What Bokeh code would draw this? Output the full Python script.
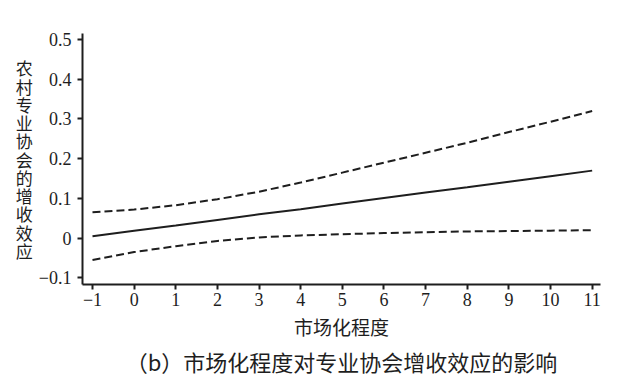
from bokeh.plotting import figure
from bokeh.models import Range1d, FixedTicker, Title, CustomJSTickFormatter
from bokeh.embed import file_html
from bokeh.resources import INLINE

x_vals = [-1, 0, 1, 2, 3, 4, 5, 6, 7, 8, 9, 10, 11]
effect = [0.005, 0.019, 0.032, 0.046, 0.060, 0.073, 0.087, 0.101, 0.115, 0.128, 0.142, 0.156, 0.170]
upper = [0.065, 0.072, 0.083, 0.098, 0.117, 0.140, 0.165, 0.190, 0.215, 0.240, 0.267, 0.293, 0.320]
lower = [-0.055, -0.035, -0.020, -0.007, 0.002, 0.007, 0.010, 0.013, 0.015, 0.017, 0.018, 0.019, 0.020]

x_ticks = [-1, 0, 1, 2, 3, 4, 5, 6, 7, 8, 9, 10, 11]
x_tick_labels = ["−1", "0", "1", "2", "3", "4", "5", "6", "7", "8", "9", "10", "11"]
y_ticks = [-0.1, 0, 0.1, 0.2, 0.3, 0.4, 0.5]
y_tick_labels = ["−0.1", "0", "0.1", "0.2", "0.3", "0.4", "0.5"]

x_title = "市场化程度"
y_title = "农村专业协会的增收效应"
caption = "（b）市场化程度对专业协会增收效应的影响"

SERIF = "Liberation Serif"
CJK = "Noto Sans CJK SC"
INK = "#1e1e1e"

LOOKUP = """
let best = 0;
for (let i = 0; i < tvals.length; i++) {
    if (Math.abs(tvals[i] - tick) < Math.abs(tvals[best] - tick)) { best = i; }
}
return tlabels[best];
"""

p = figure(width=622, height=378, output_backend="svg", toolbar_location=None,
           x_range=Range1d(-1.24, 11.2), y_range=Range1d(-0.1165, 0.515),
           min_border_left=82, min_border_right=22, min_border_top=33, min_border_bottom=94)
p.outline_line_color = None
p.xgrid.visible = False
p.ygrid.visible = False
p.background_fill_color = "white"
p.border_fill_color = "white"

p.line(x_vals, upper, line_color=INK, line_width=2, line_dash="8 4")
p.line(x_vals, lower, line_color=INK, line_width=2, line_dash="8 4")
p.line(x_vals, effect, line_color=INK, line_width=2)

for ax in (p.xaxis[0], p.yaxis[0]):
    ax.axis_line_width = 2
    ax.axis_line_color = INK
    ax.major_tick_line_width = 2
    ax.major_tick_line_color = INK
    ax.major_tick_out = 5
    ax.major_tick_in = 0
    ax.minor_tick_line_color = None
    ax.major_label_text_font = SERIF
    ax.major_label_text_font_size = "18px"
    ax.major_label_text_color = INK

p.xaxis[0].ticker = FixedTicker(ticks=x_ticks)
p.xaxis[0].formatter = CustomJSTickFormatter(args=dict(tvals=x_ticks, tlabels=x_tick_labels), code=LOOKUP)
p.xaxis[0].major_label_standoff = 3
p.xaxis[0].axis_label = x_title
p.xaxis[0].axis_label_text_font = CJK
p.xaxis[0].axis_label_text_font_size = "19px"
p.xaxis[0].axis_label_text_font_style = "normal"
p.xaxis[0].axis_label_text_color = INK
p.xaxis[0].axis_label_standoff = 4

p.yaxis[0].ticker = FixedTicker(ticks=y_ticks)
p.yaxis[0].formatter = CustomJSTickFormatter(args=dict(tvals=y_ticks, tlabels=y_tick_labels), code=LOOKUP)
p.yaxis[0].major_label_standoff = 6
p.yaxis[0].axis_label = "\n".join(y_title)
p.yaxis[0].axis_label_orientation = "horizontal"
p.yaxis[0].axis_label_text_font = CJK
p.yaxis[0].axis_label_text_font_size = "17px"
p.yaxis[0].axis_label_text_font_style = "normal"
p.yaxis[0].axis_label_text_color = INK
p.yaxis[0].axis_label_text_line_height = 0.73
p.yaxis[0].axis_label_standoff = 3

p.add_layout(Title(text=caption, align="center", text_font=CJK, text_font_size="22px",
                   text_font_style="normal", text_color=INK, standoff=0), "below")

open("out.html", "w").write(file_html(p, INLINE))
